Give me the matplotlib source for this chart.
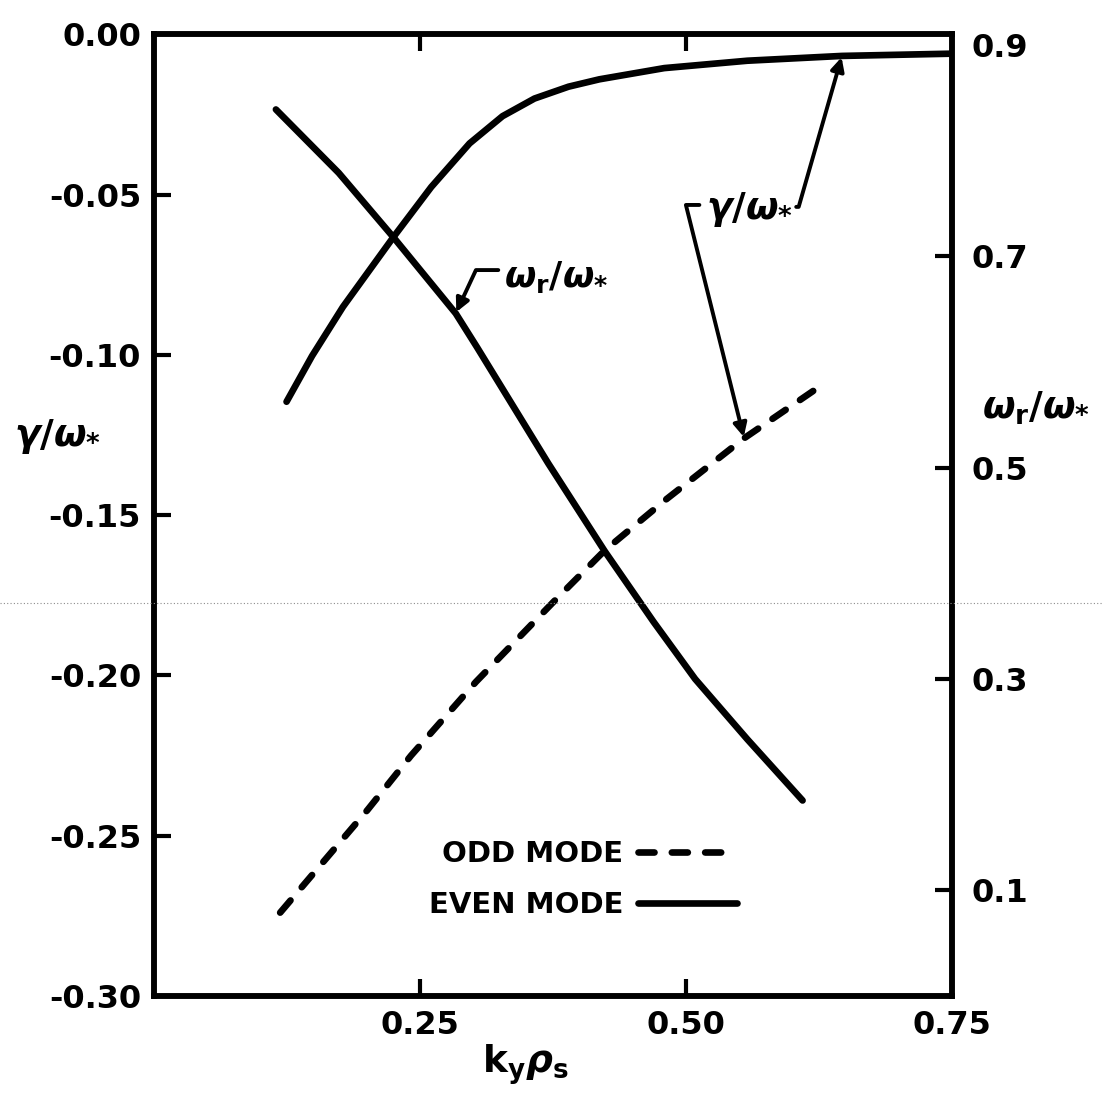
import numpy as np
import matplotlib
matplotlib.use("Agg")
import matplotlib.pyplot as plt
from matplotlib.ticker import FormatStrFormatter
from matplotlib.lines import Line2D

plt.rcParams["font.family"] = ["DejaVu Sans"]
plt.rcParams["font.weight"] = "bold"
plt.rcParams["axes.unicode_minus"] = False
plt.rcParams["mathtext.fontset"] = "custom"
plt.rcParams["mathtext.rm"] = "DejaVu Sans:bold"
plt.rcParams["mathtext.it"] = "DejaVu Sans:italic:bold"

# ---------------------------------------------------------------------------
# Data
# ---------------------------------------------------------------------------
# even mode growth rate gamma/omega*  (left axis)
K_EVEN_G = [0.125, 0.149, 0.178, 0.2255, 0.261, 0.297, 0.328, 0.358, 0.390,
            0.419, 0.480, 0.558, 0.647, 0.750]
GAMMA_EVEN = [-0.1146, -0.1003, -0.0850, -0.0632, -0.0476, -0.0340, -0.0255,
              -0.0200, -0.0163, -0.0140, -0.0105, -0.0082, -0.0067, -0.0060]

# even mode real frequency omega_r/omega*  (right axis)
K_EVEN_W = [0.115, 0.174, 0.2255, 0.284, 0.304, 0.371, 0.424, 0.470, 0.509,
            0.558, 0.610]
OMEGA_EVEN = [0.839, 0.779, 0.718, 0.646, 0.614, 0.504, 0.421, 0.354, 0.300,
              0.243, 0.185]

# odd mode growth rate gamma/omega*  (left axis)
K_ODD_G = [0.119, 0.142, 0.201, 0.242, 0.303, 0.376, 0.424, 0.482, 0.555, 0.621]
GAMMA_ODD = [-0.274, -0.265, -0.242, -0.225, -0.202, -0.177, -0.161, -0.145,
             -0.126, -0.111]

X_TICKS = [0.25, 0.50, 0.75]
Y_TICKS_LEFT = [-0.30, -0.25, -0.20, -0.15, -0.10, -0.05, 0.00]
Y_TICKS_RIGHT = [0.1, 0.3, 0.5, 0.7, 0.9]
LEGEND_LABELS = ["ODD MODE", "EVEN MODE"]

# ---------------------------------------------------------------------------
# Figure
# ---------------------------------------------------------------------------
W, H = 1103, 1097
fig = plt.figure(figsize=(W / 100, H / 100), dpi=100)
ax = fig.add_axes([0.1392, 0.0921, 0.7235, 0.8765])
ax2 = ax.twinx()

LW = 4.8
SPINE_LW = 4.0

ax.set_xlim(0, 0.75)
ax.set_ylim(-0.30, 0.00)
ax2.set_ylim(0.0, 0.91)

odd_line, = ax.plot(K_ODD_G, GAMMA_ODD, color="black", lw=LW,
                    dashes=(2.4, 2.6), dash_capstyle="round")
even_line, = ax.plot(K_EVEN_G, GAMMA_EVEN, color="black", lw=LW,
                     solid_capstyle="round", solid_joinstyle="round")
ax2.plot(K_EVEN_W, OMEGA_EVEN, color="black", lw=LW,
         solid_capstyle="round", solid_joinstyle="round")

# ticks
ax.set_xticks(X_TICKS)
ax.xaxis.set_major_formatter(FormatStrFormatter("%.2f"))
ax.set_yticks(Y_TICKS_LEFT)
ax.yaxis.set_major_formatter(FormatStrFormatter("%.2f"))
ax2.set_yticks(Y_TICKS_RIGHT)
ax2.yaxis.set_major_formatter(FormatStrFormatter("%.1f"))

ax.tick_params(axis="x", direction="in", length=12, width=3, top=True,
               labelsize=23, pad=10)
ax.tick_params(axis="y", direction="in", length=12, width=3, right=False,
               labelsize=23, pad=9)
ax2.tick_params(axis="y", direction="in", length=12, width=3,
                labelsize=23, pad=14)
# the 0.9 mark sits in the corner, only its label shows
ax2.yaxis.get_major_ticks()[-1].tick2line.set_visible(False)

for a in (ax, ax2):
    for s in a.spines.values():
        s.set_linewidth(SPINE_LW)
        s.set_capstyle("projecting")

# axis labels
fig.text(57 / W, 1 - 437 / H, r"$\gamma/\omega_{*}$", fontsize=27,
         ha="center", va="center")
fig.text(1036 / W, 1 - 408 / H, r"$\omega_{\rm r}/\omega_{*}$", fontsize=27,
         ha="center", va="center")
fig.text(525 / W, 1 - 1065 / H, r"$\mathrm{k_{y}}\rho_{\mathrm{s}}$", fontsize=27,
         ha="center", va="center")

# annotation for omega_r curve
arrow_kw = dict(arrowstyle="-|>", color="black", lw=2.8, mutation_scale=20,
                shrinkA=0, shrinkB=1)
ax2.text(0.378, 0.680, r"$\omega_{\rm r}/\omega_{*}$", fontsize=26,
         ha="center", va="center")
ax2.annotate("", xy=(K_EVEN_W[3], OMEGA_EVEN[3]), xytext=(0.324, 0.687),
             arrowprops=dict(connectionstyle="angle,angleA=0,angleB=65,rad=0",
                             **arrow_kw))

# annotation for gamma curves
ax.text(0.560, -0.0545, r"$\gamma/\omega_{*}$", fontsize=27,
        ha="center", va="center")
ax.annotate("", xy=(K_EVEN_G[12], GAMMA_EVEN[12]), xytext=(0.604, -0.0538),
            arrowprops=dict(connectionstyle="angle,angleA=0,angleB=74,rad=0",
                            **arrow_kw))
ax.annotate("", xy=(K_ODD_G[8], GAMMA_ODD[8]), xytext=(0.513, -0.0532),
            arrowprops=dict(connectionstyle="angle,angleA=0,angleB=104,rad=0",
                            **arrow_kw))

# legend: label first, line sample after it
ax.legend([odd_line, even_line], LEGEND_LABELS, loc="center",
          bbox_to_anchor=(0.538, 0.121), markerfirst=False, frameon=False,
          fontsize=21, handlelength=3.4, handletextpad=0.5, labelspacing=0.8)

# faint scan line across the page
fig.add_artist(Line2D([0, 1], [1 - 603 / H] * 2, transform=fig.transFigure,
                      color="0.55", lw=0.8, ls=(0, (1, 2))))

fig.savefig("out.png", dpi=100)
